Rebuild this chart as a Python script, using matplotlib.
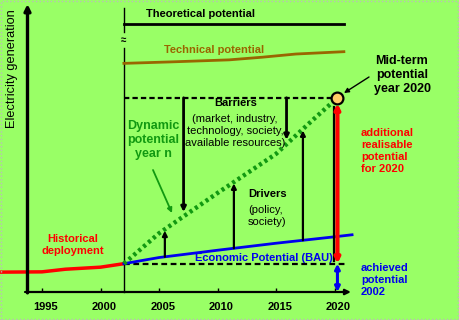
import matplotlib.pyplot as plt
import numpy as np
from matplotlib.transforms import offset_copy
from matplotlib.patches import Rectangle

# historical deployment (red)
hist_years = [1991.4, 1995, 1997, 2000, 2002]
hist_vals = [6.8, 6.9, 7.8, 8.5, 9.7]

# economic potential, business as usual (blue)
econ_years = [2002, 2005, 2010, 2015, 2020, 2021.5]
econ_vals = [9.7, 11.8, 14.3, 16.7, 18.9, 19.6]

# dynamic potential (green dotted)
dyn_years = [2002, 2005, 2010, 2015, 2018, 2020.25]
dyn_vals = [9.7, 20.1, 33.9, 47.3, 58.4, 66.5]

# technical and theoretical potential
tech_years = [2002, 2006, 2011, 2013.8, 2016.7, 2020.8]
tech_vals = [78.3, 78.8, 79.5, 80.4, 81.5, 82.3]
theo_years = [2002, 2020.8]
theo_vals = [91.8, 91.8]

target_year = 2020.25
midterm = dyn_vals[-1]
current = hist_vals[-1]
bau_end = 2021.1

barrier_years = [2007.1, 2015.9]
driver_years = [2005.5, 2011.4, 2017.3]
tick_years = [1995, 2000, 2005, 2010, 2015, 2020]

BG = '#99ff66'
GREEN = '#119911'
BLUE = '#0000ee'
RED = '#ff0000'
BROWN = '#996600'

plt.rcParams['font.family'] = ['Liberation Sans', 'DejaVu Sans']

fig = plt.figure(figsize=(4.59, 3.2), dpi=100)
fig.patch.set_facecolor(BG)
ax = fig.add_axes([0, 0, 1, 1])
ax.set_facecolor(BG)
ax.set_xlim(1991.41, 2030.64)
ax.set_ylim(-9.59, 100)
ax.axis('off')


def P(x, y):
    # pixel position -> axes fraction
    return (x / 459.0, 1 - y / 320.0)


def txt(x, y, s, **kw):
    kw.setdefault('ha', 'center')
    kw.setdefault('va', 'center')
    kw.setdefault('fontsize', 8)
    ax.text(*P(x, y), s, transform=ax.transAxes, **kw)


# axes arrows
ax.annotate('', xy=(1993.76, 98.6), xytext=(1993.76, -0.3),
            arrowprops=dict(arrowstyle='-|>', color='k', lw=2.4, mutation_scale=9,
                            shrinkA=0, shrinkB=0))
ax.annotate('', xy=(2021.4, 0), xytext=(1993.55, 0),
            arrowprops=dict(arrowstyle='-|>', color='k', lw=1.6, mutation_scale=8,
                            shrinkA=0, shrinkB=0))
ax.vlines(tick_years, 0, 1.3, color='k', lw=1)
for yr in tick_years:
    ax.text(yr, 0, str(yr), ha='center', va='center', fontsize=8, fontweight='bold',
            transform=offset_copy(ax.transData, fig, x=4, y=-15, units='dots'))

# divider at 2002 with break mark
ax.plot([2002, 2002], [0, 83.5], color='k', lw=1)
ax.plot([2002, 2002], [89, 97.3], color='k', lw=1)
ax.text(2002, 86.3, '≈', ha='center', va='center', fontsize=7, fontweight='bold')

# potentials
ax.plot(theo_years, theo_vals, color='k', lw=2)
ax.plot(tech_years, tech_vals, color=BROWN, lw=2)
ax.plot([2002, target_year], [midterm, midterm], color='k', lw=1.6, ls=(0, (2.4, 1.4)))
ax.plot([2002, bau_end], [current, current], color='k', lw=1.6, ls=(0, (2.6, 1.6)))
ax.plot(hist_years, hist_vals, color=RED, lw=2.5, solid_capstyle='butt')
ax.plot(econ_years, econ_vals, color=BLUE, lw=2)
ax.plot(dyn_years, dyn_vals, color=GREEN, lw=3.2, ls=(0, (0.7, 0.75)))

# barriers (down) and drivers (up)
for yr in barrier_years:
    y_end = np.interp(yr, dyn_years, dyn_vals) + 1.5
    ax.annotate('', xy=(yr, y_end), xytext=(yr, midterm),
                arrowprops=dict(arrowstyle='-|>', color='k', lw=2, mutation_scale=7,
                                shrinkA=0, shrinkB=0))
for yr in driver_years:
    y0 = np.interp(yr, econ_years, econ_vals)
    y1 = np.interp(yr, dyn_years, dyn_vals) - 0.5
    ax.annotate('', xy=(yr, y1), xytext=(yr, y0),
                arrowprops=dict(arrowstyle='-|>', color='k', lw=1.6, mutation_scale=7,
                                shrinkA=0, shrinkB=0))

# additional realisable potential (red) and achieved potential (blue)
shadow = offset_copy(ax.transData, fig, x=-3, y=0, units='dots')
ax.plot([target_year, target_year], [current + 1, midterm - 3], color='k', lw=1.6,
        transform=shadow)
ax.annotate('', xy=(target_year, midterm), xytext=(target_year, current),
            arrowprops=dict(arrowstyle='<|-|>', color=RED, lw=3, mutation_scale=7,
                            shrinkA=0, shrinkB=4))
ax.annotate('', xy=(target_year, current), xytext=(target_year, 0),
            arrowprops=dict(arrowstyle='<|-|>', color=BLUE, lw=2.2, mutation_scale=7,
                            shrinkA=0, shrinkB=0))
ax.plot(target_year, midterm, 'o', ms=8.5, mfc='#ffcc66', mec='k', mew=1.6, zorder=6)

# labels
txt(12, 69, 'Electricity generation', rotation=90, fontsize=9.2)
txt(201, 14, 'Theoretical potential', fontweight='bold')
txt(214, 50, 'Technical potential', fontweight='bold', color=BROWN)
txt(236, 103, 'Barriers', fontweight='bold')
txt(235, 131, '(market, industry,\ntechnology, society,\navailable resources)',
    linespacing=1.2)
txt(153, 140, 'Dynamic\npotential\nyear n', fontsize=9, fontweight='bold', color=GREEN,
    linespacing=1.25)
txt(248, 194, 'Drivers', ha='left', fontweight='bold')
txt(248, 216, '(policy,\nsociety)', ha='left', linespacing=1.2)
txt(73, 245, 'Historical\ndeployment', fontweight='bold', color=RED, linespacing=1.25)
txt(264, 258, 'Economic Potential (BAU)', fontweight='bold', color=BLUE)
txt(402, 75, 'Mid-term\npotential\nyear 2020', fontsize=9, fontweight='bold',
    linespacing=1.2)
txt(361, 151, 'additional\nrealisable\npotential\nfor 2020', ha='left',
    fontweight='bold', color=RED, linespacing=1.28)
txt(361, 280, 'achieved\npotential\n2002', ha='left', fontweight='bold', color=BLUE,
    linespacing=1.22)

# pointer arrows
ax.annotate('', xy=P(172, 213), xytext=P(153, 170), xycoords='axes fraction',
            textcoords='axes fraction',
            arrowprops=dict(arrowstyle='-|>', color=GREEN, lw=1.3, mutation_scale=7,
                            shrinkA=0, shrinkB=0))
ax.annotate('', xy=P(344, 93), xytext=P(369, 77), xycoords='axes fraction',
            textcoords='axes fraction',
            arrowprops=dict(arrowstyle='-|>', color='k', lw=1, mutation_scale=7,
                            shrinkA=0, shrinkB=0))

# dotted frame
fig.patches.append(Rectangle((0.002, 0.004), 0.995, 0.992, transform=fig.transFigure,
                             fill=False, ec='#bbbbbb', lw=1, ls=':'))

fig.savefig('out.png', dpi=100, facecolor=BG)
